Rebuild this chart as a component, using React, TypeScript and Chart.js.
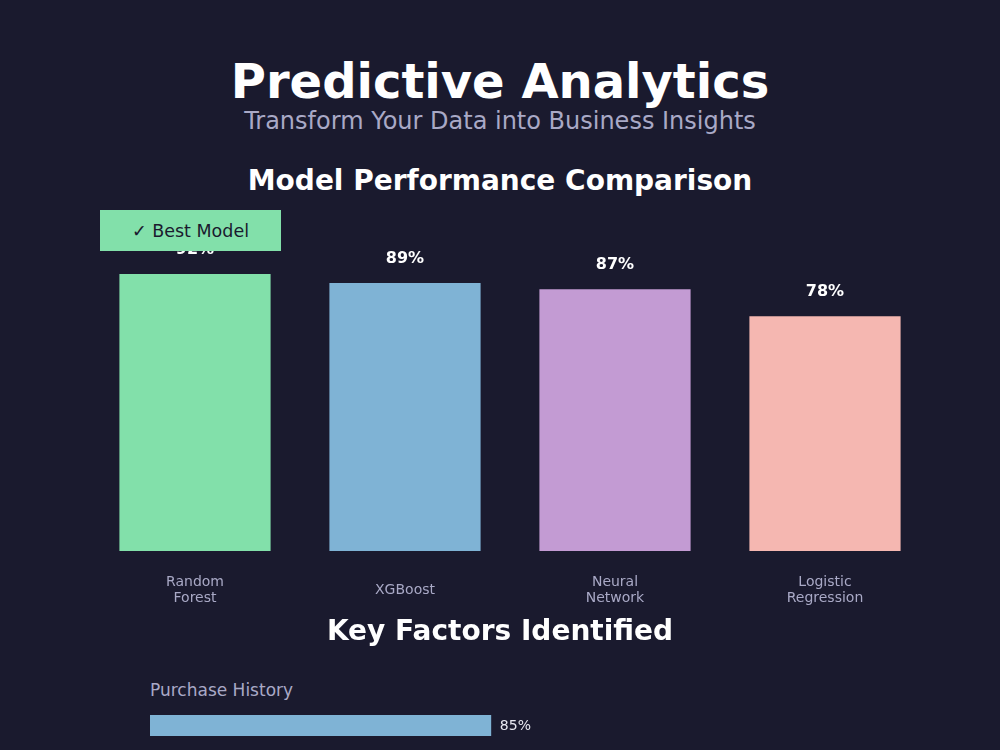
import React, { useEffect, useRef } from "react";
import { Chart, registerables } from "chart.js";

Chart.register(...registerables);

// Model comparison data
const models: string[][] = [["Random", "Forest"], ["XGBoost"], ["Neural", "Network"], ["Logistic", "Regression"]];
const accuracy = [92, 89, 87, 78];
const modelColors = ["#82e0aa", "#7fb3d5", "#c39bd3", "#f5b7b1"];

// Key factor data
const factorNames = ["Purchase History"];
const factorWeights = [85];
const factorColors = ["#7fb3d5"];

const FONT = "'DejaVu Sans', sans-serif";
const BG = "#1a1a2e";
const MUTED = "#a9a9c6";

// Draws "NN%" above each vertical bar
const valueLabels = {
  id: "valueLabels",
  afterDatasetsDraw(chart: any) {
    const { ctx } = chart;
    const meta = chart.getDatasetMeta(0);
    ctx.save();
    ctx.font = `bold 16px ${FONT}`;
    ctx.fillStyle = "#ffffff";
    ctx.textAlign = "center";
    ctx.textBaseline = "middle";
    meta.data.forEach((bar: any, i: number) => {
      ctx.fillText(`${chart.data.datasets[0].data[i]}%`, bar.x, bar.y - 24);
    });
    ctx.restore();
  },
};

// Draws "NN%" to the right of each horizontal bar
const endLabels = {
  id: "endLabels",
  afterDatasetsDraw(chart: any) {
    const { ctx } = chart;
    const meta = chart.getDatasetMeta(0);
    ctx.save();
    ctx.font = `14px ${FONT}`;
    ctx.fillStyle = "#e8e8f0";
    ctx.textAlign = "left";
    ctx.textBaseline = "middle";
    meta.data.forEach((bar: any, i: number) => {
      ctx.fillText(`${chart.data.datasets[0].data[i]}%`, bar.x + 9, bar.y + 1);
    });
    ctx.restore();
  },
};

function ModelChart() {
  const ref = useRef<HTMLCanvasElement>(null);
  useEffect(() => {
    const chart = new Chart(ref.current!, {
      type: "bar",
      data: {
        labels: models,
        datasets: [{ data: accuracy, backgroundColor: modelColors, borderWidth: 0 }],
      },
      options: {
        responsive: false,
        animation: false,
        layout: { padding: { top: 50, left: 90, right: 70, bottom: 0 } },
        plugins: { legend: { display: false }, tooltip: { enabled: false } },
        scales: {
          x: {
            grid: { display: false, drawTicks: false },
            border: { display: false },
            ticks: {
              color: MUTED,
              font: { family: FONT, size: 14, lineHeight: 1.2 },
              padding: 31,
              crossAlign: "center",
              maxRotation: 0,
              autoSkip: false,
            },
            afterFit: (s: any) => {
              s.height = 79;
            },
          },
          y: { display: false, min: 0, max: 100 },
        },
      },
      plugins: [valueLabels],
    } as any);
    return () => chart.destroy();
  }, []);
  return <canvas ref={ref} width={1000} height={430} style={{ position: "absolute", left: 0, top: 200 }} />;
}

function FactorChart() {
  const ref = useRef<HTMLCanvasElement>(null);
  useEffect(() => {
    const chart = new Chart(ref.current!, {
      type: "bar",
      data: {
        labels: factorNames,
        datasets: [{ data: factorWeights, backgroundColor: factorColors, borderWidth: 0, barThickness: 21 }],
      },
      options: {
        indexAxis: "y",
        responsive: false,
        animation: false,
        layout: { padding: { top: 10, left: 150, right: 449, bottom: 11 } },
        plugins: { legend: { display: false }, tooltip: { enabled: false } },
        scales: {
          x: { display: false, min: 0, max: 100 },
          y: { display: false },
        },
      },
      plugins: [endLabels],
    } as any);
    return () => chart.destroy();
  }, []);
  return <canvas ref={ref} width={1000} height={42} style={{ position: "absolute", left: 0, top: 705 }} />;
}

const center = (top: number, size: number, bold: boolean, color: string): React.CSSProperties => ({
  position: "absolute",
  left: 0,
  width: 1000,
  top,
  textAlign: "center",
  fontFamily: FONT,
  fontSize: size,
  lineHeight: `${size}px`,
  fontWeight: bold ? "bold" : "normal",
  color,
  whiteSpace: "nowrap",
});

export default function App() {
  return (
    <div
      style={{
        position: "absolute",
        left: 0,
        top: 0,
        width: 1000,
        height: 750,
        overflow: "hidden",
        background: BG,
        fontFamily: FONT,
      }}
    >
      <div style={center(57, 48, true, "#ffffff")}>Predictive Analytics</div>
      <div style={center(109, 24, false, MUTED)}>Transform Your Data into Business Insights</div>
      <div style={center(167, 28, true, "#ffffff")}>Model Performance Comparison</div>
      <ModelChart />
      <div
        style={{
          position: "absolute",
          left: 100,
          top: 210,
          width: 181,
          height: 41,
          background: "#82e0aa",
          color: BG,
          fontSize: 17.5,
          display: "flex",
          alignItems: "center",
          justifyContent: "center",
          fontFamily: FONT,
        }}
      >
        ✓ Best Model
      </div>
      <div style={center(617, 28, true, "#ffffff")}>Key Factors Identified</div>
      <div
        style={{
          position: "absolute",
          left: 150,
          top: 682,
          fontFamily: FONT,
          fontSize: 17,
          lineHeight: "17px",
          color: MUTED,
          whiteSpace: "nowrap",
        }}
      >
        {factorNames[0]}
      </div>
      <FactorChart />
    </div>
  );
}
